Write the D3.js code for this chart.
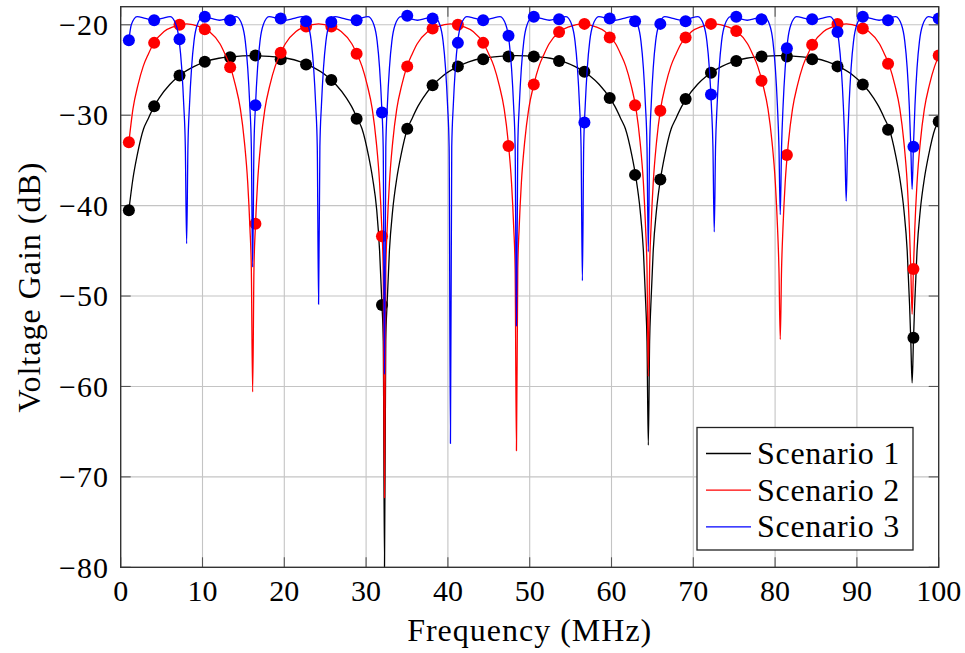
<!DOCTYPE html>
<html>
<head>
<meta charset="utf-8">
<script src="https://cdn.jsdelivr.net/npm/d3@7"></script>
<style>
  body { margin: 0; background: #fff; }
  text { font-family: "Liberation Serif", "DejaVu Serif", serif; fill: #000; }
</style>
</head>
<body>
<div id="chart"></div>
<script>
// Voltage gain vs frequency, three scenarios (lines = model, dots = samples)

const xTicks = [0, 10, 20, 30, 40, 50, 60, 70, 80, 90, 100];
const yTicks = [-80, -70, -60, -50, -40, -30, -20];
const seriesNames = ["Scenario 1", "Scenario 2", "Scenario 3"];
const seriesColors = ["#000000", "#ff0000", "#0000ff"];

// sample frequencies of the dots (MHz)
const sampleFreq = [1.0, 4.09, 7.19, 10.28, 13.38, 16.47, 19.56, 22.66, 25.75, 28.84, 31.94,
  35.03, 38.13, 41.22, 44.31, 47.41, 50.5, 53.59, 56.69, 59.78, 62.88, 65.97, 69.06,
  72.16, 75.25, 78.34, 81.44, 84.53, 87.63, 90.72, 93.81, 96.91, 100.0];

const s1Samples = [-40.5, -29.0, -25.6, -24.1, -23.6, -23.4, -23.8, -24.4, -26.1, -30.4, -51.0,
  -31.5, -26.7, -24.6, -23.8, -23.5, -23.5, -24.0, -25.2, -28.1, -36.6, -37.1, -28.2,
  -25.3, -24.0, -23.5, -23.5, -23.8, -24.6, -26.6, -31.6, -54.6, -30.7];

const s2Samples = [-33.0, -22.0, -20.0, -20.5, -24.7, -42.0, -23.1, -20.2, -20.2, -23.2, -43.4,
  -24.6, -20.4, -20.0, -22.0, -33.4, -26.6, -20.8, -19.9, -21.4, -28.9, -29.5, -21.4,
  -19.9, -20.7, -26.2, -34.4, -22.2, -19.9, -20.4, -24.3, -47.0, -23.4];

const s3Samples = [-21.7, -19.5, -21.6, -19.1, -19.5, -28.9, -19.3, -19.6, -19.7, -19.5, -29.7,
  -19.0, -19.3, -22.0, -19.5, -21.2, -19.1, -19.4, -30.8, -19.3, -19.6, -19.9, -19.6,
  -27.7, -19.1, -19.4, -22.6, -19.4, -20.8, -19.1, -19.5, -33.5, -19.3];

// continuous curves [MHz, dB]
const s1Curve = [
  [1.0,-40.5],[1.5,-37.0],[2.0,-34.5],[2.8,-31.5],[3.3,-30.5],[4.1,-29.0],[4.7,-28.1],[6.0,-26.6],
  [7.2,-25.6],[9.0,-24.6],[10.3,-24.1],[12.0,-23.7],[13.4,-23.55],[16.1,-23.4],[18.9,-23.55],
  [20.3,-23.7],[22.0,-24.1],[23.3,-24.6],[25.1,-25.6],[26.3,-26.6],[27.6,-28.1],[28.2,-29.0],
  [29.0,-30.5],[29.5,-31.5],[30.3,-34.5],[30.8,-37.0],[31.3,-40.5],[31.65,-45],[31.94,-51],
  [32.1,-55],[32.25,-80],
  [32.4,-55],[32.56,-51],[32.85,-45],[33.25,-40.5],[33.75,-37],[34.25,-34.5],[35.05,-31.5],
  [35.55,-30.5],[36.35,-29.0],[36.95,-28.1],[38.25,-26.6],[39.45,-25.6],[41.25,-24.6],
  [42.55,-24.1],[44.25,-23.7],[45.65,-23.55],[48.4,-23.4],[51.1,-23.55],[52.5,-23.7],
  [54.2,-24.1],[55.5,-24.6],[57.3,-25.6],[58.5,-26.6],[59.8,-28.1],[60.4,-29.0],[61.2,-30.5],
  [61.7,-31.5],[62.5,-34.5],[63.0,-37.0],[63.5,-40.5],[63.9,-45],[64.19,-51],[64.34,-55],
  [64.5,-66.5],
  [64.66,-55],[64.81,-51],[65.1,-45],[65.5,-40.5],[66.0,-37],[66.5,-34.5],[67.3,-31.5],
  [67.8,-30.5],[68.6,-29.0],[69.2,-28.1],[70.5,-26.6],[71.7,-25.6],[73.5,-24.6],[74.8,-24.1],
  [76.5,-23.7],[77.9,-23.55],[80.6,-23.4],[83.35,-23.55],[84.75,-23.7],[86.45,-24.1],
  [87.75,-24.6],[89.55,-25.6],[90.75,-26.6],[92.05,-28.1],[92.65,-29.0],[93.45,-30.5],
  [93.95,-31.5],[94.75,-34.5],[95.25,-37],[95.75,-40.5],[96.15,-45],[96.44,-51],[96.59,-55],
  [96.75,-59.6],
  [96.91,-55],[97.06,-51],[97.35,-45],[97.75,-40.5],[98.25,-37],[98.75,-34.5],[99.55,-31.5],
  [100,-30.7]
];

const s2Curve = [
  [1.0,-33.0],[1.5,-29.3],[2.1,-26.7],[2.75,-24.6],[3.4,-23.2],[4.0,-22.1],[5.3,-20.75],[6.5,-20.2],
  [8.06,-19.9],[9.63,-20.2],[10.83,-20.75],[12.13,-22.1],[12.73,-23.2],[13.38,-24.6],[14.03,-26.7],
  [14.63,-29.3],[15.13,-33.0],[15.53,-37.5],[15.8,-42.5],[15.97,-47],[16.13,-60.6],
  [16.29,-47],[16.46,-42.5],[16.73,-37.5],[17.13,-33.0],[17.63,-29.3],[18.23,-26.7],[18.88,-24.6],
  [19.53,-23.2],[20.13,-22.1],[21.43,-20.75],[22.63,-20.2],[24.19,-19.9],[25.75,-20.2],
  [26.95,-20.75],[28.25,-22.1],[28.85,-23.2],[29.5,-24.6],[30.15,-26.7],[30.75,-29.3],
  [31.25,-33.0],[31.65,-37.5],[31.92,-42.5],[32.09,-47],[32.25,-72.3],
  [32.41,-47],[32.58,-42.5],[32.85,-37.5],[33.25,-33.0],[33.75,-29.3],[34.35,-26.7],[35.0,-24.6],
  [35.65,-23.2],[36.25,-22.1],[37.55,-20.75],[38.75,-20.2],[40.31,-19.9],[41.88,-20.2],
  [43.08,-20.75],[44.38,-22.1],[44.98,-23.2],[45.63,-24.6],[46.28,-26.7],[46.88,-29.3],
  [47.38,-33.0],[47.78,-37.5],[48.05,-42.5],[48.22,-47],[48.38,-67.1],
  [48.54,-47],[48.71,-42.5],[48.98,-37.5],[49.38,-33.0],[49.88,-29.3],[50.48,-26.7],[51.13,-24.6],
  [51.78,-23.2],[52.38,-22.1],[53.68,-20.75],[54.88,-20.2],[56.44,-19.9],[58.0,-20.2],
  [59.2,-20.75],[60.5,-22.1],[61.1,-23.2],[61.75,-24.6],[62.4,-26.7],[63.0,-29.3],[63.5,-33.0],
  [63.9,-37.5],[64.17,-42.5],[64.34,-47],[64.5,-58.9],
  [64.66,-47],[64.83,-42.5],[65.1,-37.5],[65.5,-33.0],[66.0,-29.3],[66.6,-26.7],[67.25,-24.6],
  [67.9,-23.2],[68.5,-22.1],[69.8,-20.75],[71.0,-20.2],[72.56,-19.9],[74.13,-20.2],
  [75.33,-20.75],[76.63,-22.1],[77.23,-23.2],[77.88,-24.6],[78.53,-26.7],[79.13,-29.3],
  [79.63,-33.0],[80.03,-37.5],[80.3,-42.5],[80.47,-47],[80.63,-54.8],
  [80.79,-47],[80.96,-42.5],[81.23,-37.5],[81.63,-33.0],[82.13,-29.3],[82.73,-26.7],[83.38,-24.6],
  [84.03,-23.2],[84.63,-22.1],[85.93,-20.75],[87.13,-20.2],[88.69,-19.9],[90.25,-20.2],
  [91.45,-20.75],[92.75,-22.1],[93.35,-23.2],[94.0,-24.6],[94.65,-26.7],[95.25,-29.3],
  [95.75,-33.0],[96.15,-37.5],[96.42,-42.5],[96.59,-47],[96.75,-52.0],
  [96.91,-47],[97.08,-42.5],[97.35,-37.5],[97.75,-33.0],[98.25,-29.3],[98.85,-26.7],[99.5,-24.6],
  [100,-23.5]
];

const s3Curve = [
  [1.0,-21.7],[1.3,-20.0],[2.0,-19.1],[3.0,-19.3],[4.03,-19.5],
  [5.06,-19.3],[6.06,-19.1],[6.76,-20.0],[7.16,-21.8],[7.46,-24.8],[7.71,-28.9],[7.9,-33.5],
  [8.06,-44.2],
  [8.22,-33.5],[8.41,-28.9],[8.66,-24.8],[8.96,-21.8],[9.36,-20.0],[10.06,-19.1],[11.06,-19.3],
  [12.09,-19.5],[13.13,-19.3],[14.13,-19.1],[14.83,-20.0],[15.23,-21.8],[15.53,-24.8],
  [15.78,-28.9],[15.97,-33.5],[16.13,-46.8],
  [16.29,-33.5],[16.48,-28.9],[16.73,-24.8],[17.03,-21.8],[17.43,-20.0],[18.13,-19.1],
  [19.13,-19.3],[20.16,-19.5],[21.19,-19.3],[22.19,-19.1],[22.89,-20.0],[23.29,-21.8],
  [23.59,-24.8],[23.84,-28.9],[24.03,-33.5],[24.19,-50.9],
  [24.35,-33.5],[24.54,-28.9],[24.79,-24.8],[25.09,-21.8],[25.49,-20.0],[26.19,-19.1],
  [27.19,-19.3],[28.22,-19.5],[29.25,-19.3],[30.25,-19.1],[30.95,-20.0],[31.35,-21.8],
  [31.65,-24.8],[31.9,-28.9],[32.09,-33.5],[32.25,-58.6],
  [32.41,-33.5],[32.6,-28.9],[32.85,-24.8],[33.15,-21.8],[33.55,-20.0],[34.25,-19.1],
  [35.25,-19.3],[36.28,-19.5],[37.31,-19.3],[38.31,-19.1],[39.01,-20.0],[39.41,-21.8],
  [39.71,-24.8],[39.96,-28.9],[40.15,-33.5],[40.31,-66.3],
  [40.47,-33.5],[40.66,-28.9],[40.91,-24.8],[41.21,-21.8],[41.61,-20.0],[42.31,-19.1],
  [43.31,-19.3],[44.34,-19.5],[45.38,-19.3],[46.38,-19.1],[47.08,-20.0],[47.48,-21.8],
  [47.78,-24.8],[48.03,-28.9],[48.22,-33.5],[48.38,-53.3],
  [48.54,-33.5],[48.73,-28.9],[48.98,-24.8],[49.28,-21.8],[49.68,-20.0],[50.38,-19.1],
  [51.38,-19.3],[52.41,-19.5],[53.44,-19.3],[54.44,-19.1],[55.14,-20.0],[55.54,-21.8],
  [55.84,-24.8],[56.09,-28.9],[56.28,-33.5],[56.44,-48.3],
  [56.6,-33.5],[56.79,-28.9],[57.04,-24.8],[57.34,-21.8],[57.74,-20.0],[58.44,-19.1],
  [59.44,-19.3],[60.47,-19.5],[61.5,-19.3],[62.5,-19.1],[63.2,-20.0],[63.6,-21.8],
  [63.9,-24.8],[64.15,-28.9],[64.34,-33.5],[64.5,-45.1],
  [64.66,-33.5],[64.85,-28.9],[65.1,-24.8],[65.4,-21.8],[65.8,-20.0],[66.5,-19.1],
  [67.5,-19.3],[68.53,-19.5],[69.56,-19.3],[70.56,-19.1],[71.26,-20.0],[71.66,-21.8],
  [71.96,-24.8],[72.21,-28.9],[72.4,-33.5],[72.56,-42.9],
  [72.72,-33.5],[72.91,-28.9],[73.16,-24.8],[73.46,-21.8],[73.86,-20.0],[74.56,-19.1],
  [75.56,-19.3],[76.59,-19.5],[77.63,-19.3],[78.63,-19.1],[79.33,-20.0],[79.73,-21.8],
  [80.03,-24.8],[80.28,-28.9],[80.47,-33.5],[80.63,-41.0],
  [80.79,-33.5],[80.98,-28.9],[81.23,-24.8],[81.53,-21.8],[81.93,-20.0],[82.63,-19.1],
  [83.63,-19.3],[84.66,-19.5],[85.69,-19.3],[86.69,-19.1],[87.39,-20.0],[87.79,-21.8],
  [88.09,-24.8],[88.34,-28.9],[88.53,-33.5],[88.69,-39.5],
  [88.85,-33.5],[89.04,-28.9],[89.29,-24.8],[89.59,-21.8],[89.99,-20.0],[90.69,-19.1],
  [91.69,-19.3],[92.72,-19.5],[93.75,-19.3],[94.75,-19.1],[95.45,-20.0],[95.85,-21.8],
  [96.15,-24.8],[96.4,-28.9],[96.59,-33.5],[96.75,-38.2],
  [96.91,-33.5],[97.1,-28.9],[97.35,-24.8],[97.65,-21.8],[98.05,-20.0],[98.75,-19.1],
  [99.75,-19.3],[100,-19.3]
];

const curves = [s1Curve, s2Curve, s3Curve];
const samples = [s1Samples, s2Samples, s3Samples];

const W = 965, H = 653;
const plot = { left: 120.7, right: 938.7, top: 6.7, bottom: 567.3 };

const svg = d3.select("#chart").append("svg")
  .attr("width", W)
  .attr("height", H);

const x = d3.scaleLinear().domain([0, 100]).range([plot.left, plot.right]);
const y = d3.scaleLinear().domain([-80, -18]).range([plot.bottom, plot.top]);

// grid
svg.append("g").selectAll("line").data(xTicks.slice(1, -1)).join("line")
  .attr("x1", d => x(d)).attr("x2", d => x(d))
  .attr("y1", plot.top).attr("y2", plot.bottom)
  .attr("stroke", "#c4c4c4").attr("stroke-width", 1.1);
svg.append("g").selectAll("line").data(yTicks.slice(1)).join("line")
  .attr("x1", plot.left).attr("x2", plot.right)
  .attr("y1", d => y(d)).attr("y2", d => y(d))
  .attr("stroke", "#c4c4c4").attr("stroke-width", 1.1);

// inward ticks on all four sides
const tickLen = 10;
const ticks = svg.append("g").attr("stroke", "#555").attr("stroke-width", 1.1);
xTicks.forEach(t => {
  ticks.append("line").attr("x1", x(t)).attr("x2", x(t)).attr("y1", plot.bottom).attr("y2", plot.bottom - tickLen);
  ticks.append("line").attr("x1", x(t)).attr("x2", x(t)).attr("y1", plot.top).attr("y2", plot.top + tickLen);
});
yTicks.forEach(t => {
  ticks.append("line").attr("x1", plot.left).attr("x2", plot.left + tickLen).attr("y1", y(t)).attr("y2", y(t));
  ticks.append("line").attr("x1", plot.right).attr("x2", plot.right - tickLen).attr("y1", y(t)).attr("y2", y(t));
});

// clip for the curves
svg.append("clipPath").attr("id", "clip")
  .append("rect")
  .attr("x", plot.left).attr("y", plot.top)
  .attr("width", plot.right - plot.left).attr("height", plot.bottom - plot.top);

const line = d3.line()
  .x(d => x(d[0]))
  .y(d => y(d[1]))
  .curve(d3.curveMonotoneX);

const layer = svg.append("g").attr("clip-path", "url(#clip)");
curves.forEach((c, i) => {
  layer.append("path")
    .datum(c)
    .attr("fill", "none")
    .attr("stroke", seriesColors[i])
    .attr("stroke-width", 1.3)
    .attr("d", line);

  layer.append("g").selectAll("circle")
    .data(samples[i])
    .join("circle")
    .attr("cx", (d, j) => x(sampleFreq[j]))
    .attr("cy", d => y(d))
    .attr("r", 6)
    .attr("fill", seriesColors[i]);
});

// frame
svg.append("rect")
  .attr("x", plot.left).attr("y", plot.top)
  .attr("width", plot.right - plot.left).attr("height", plot.bottom - plot.top)
  .attr("fill", "none").attr("stroke", "#333").attr("stroke-width", 1.4);

// tick labels
const fmt = v => v < 0 ? "\u2212" + Math.abs(v) : String(v);
svg.append("g").selectAll("text").data(xTicks).join("text")
  .attr("x", d => x(d)).attr("y", 601)
  .attr("text-anchor", "middle")
  .style("font-size", "30px")
  .text(fmt);
svg.append("g").selectAll("text").data(yTicks).join("text")
  .attr("x", 109).attr("y", d => y(d))
  .attr("dy", "0.34em")
  .attr("text-anchor", "end")
  .style("font-size", "30px")
  .style("letter-spacing", "1px")
  .text(fmt);

// axis titles
svg.append("text")
  .attr("x", (plot.left + plot.right) / 2).attr("y", 641)
  .attr("text-anchor", "middle")
  .style("font-size", "32px")
  .style("letter-spacing", "1px")
  .text("Frequency (MHz)");
svg.append("text")
  .attr("transform", `translate(40,${(plot.top + plot.bottom) / 2}) rotate(-90)`)
  .attr("text-anchor", "middle")
  .style("font-size", "32px")
  .style("letter-spacing", "1px")
  .text("Voltage Gain (dB)");

// legend
const legend = svg.append("g");
legend.append("rect")
  .attr("x", 697).attr("y", 427.5)
  .attr("width", 216).attr("height", 122.5)
  .attr("fill", "#fff").attr("stroke", "#222").attr("stroke-width", 1.3);
seriesNames.forEach((name, i) => {
  const cy = 453.5 + i * 36.7;
  legend.append("line")
    .attr("x1", 706).attr("x2", 751)
    .attr("y1", cy).attr("y2", cy)
    .attr("stroke", seriesColors[i]).attr("stroke-width", 1.3);
  legend.append("text")
    .attr("x", 757).attr("y", cy)
    .attr("dy", "0.33em")
    .style("font-size", "32px")
    .style("letter-spacing", "0.7px")
    .text(name);
});
</script>
</body>
</html>
